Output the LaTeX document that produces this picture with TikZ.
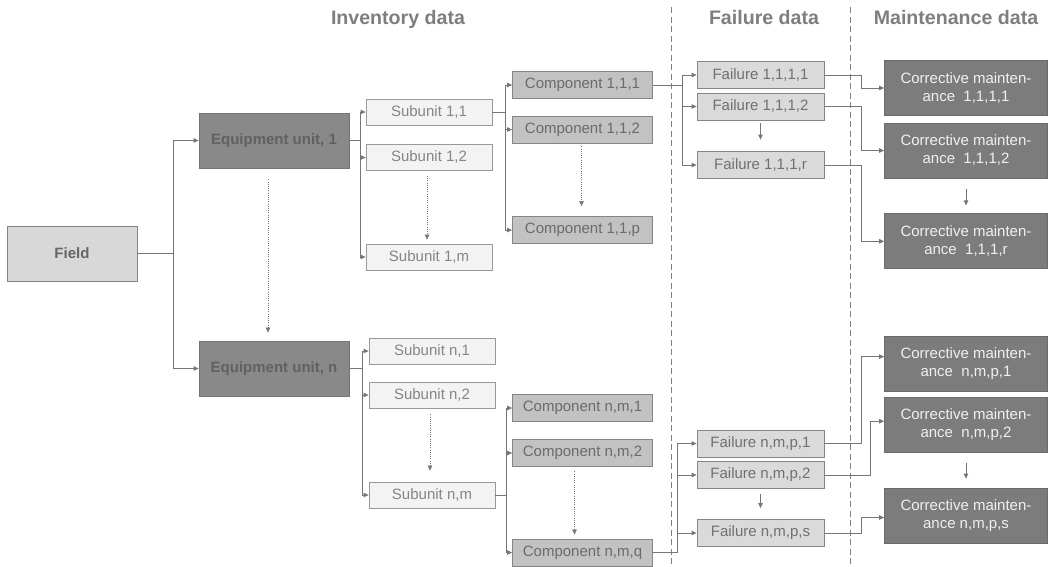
\documentclass[tikz,border=0pt]{standalone}
\usepackage{fontspec}
\setmainfont{Liberation Sans}
\usetikzlibrary{arrows.meta}

\definecolor{wire}{HTML}{767676}
\definecolor{rim}{HTML}{858585}
\definecolor{fieldfill}{HTML}{D8D8D8}
\definecolor{equipfill}{HTML}{898989}
\definecolor{subfill}{HTML}{F3F3F3}
\definecolor{compfill}{HTML}{C2C2C2}
\definecolor{failfill}{HTML}{DADADA}
\definecolor{maintfill}{HTML}{7C7C7C}
\definecolor{headgray}{HTML}{7E7E7E}

\tikzset{
  base/.style={draw=rim, line width=0.8pt, inner sep=0pt, anchor=center,
    font=\fontsize{15}{18}\selectfont},
  fieldbox/.style={base, fill=fieldfill, text=black!60,
    minimum width=130pt, minimum height=55pt, font=\fontsize{15}{18}\selectfont\bfseries},
  equipbox/.style={base, draw=black!55, fill=equipfill, text=black!62,
    minimum width=150pt, minimum height=55pt, font=\fontsize{15}{18}\selectfont\bfseries},
  subbox/.style={base, draw=black!40, fill=subfill, text=black!48,
    minimum width=126pt, minimum height=26pt},
  compbox/.style={base, fill=compfill, text=black!58,
    minimum width=140pt, minimum height=27pt},
  failbox/.style={base, fill=failfill, text=black!56,
    minimum width=127pt, minimum height=27pt},
  maintbox/.style={base, draw=black!58, fill=maintfill, text=white!94!black,
    minimum width=163pt, minimum height=55pt, align=center},
  heading/.style={anchor=base, text=headgray,
    font=\fontsize{19.6}{22}\selectfont\bfseries},
  arr/.style={draw=wire, line width=0.8pt, -{Triangle[length=5pt,width=4.5pt]}},
  dotarr/.style={draw=wire, line width=0.6pt, dash pattern=on 1pt off 1.2pt,
    -{Triangle[length=5pt,width=4.5pt]}},
  divider/.style={draw=black!50, line width=0.8pt, dash pattern=on 6pt off 3.5pt}
}

\begin{document}
\begin{tikzpicture}[x=1pt,y=-1pt]
\useasboundingbox (0,0) rectangle (1052,566);

% column headings and dividers
\node[heading] (hinv) at (398,24) {Inventory data};
\node[heading] (hfail) at (764,24) {Failure data};
\node[heading] (hmaint) at (956,24) {Maintenance data};
\draw[divider] (671,7) -- (671,566);
\draw[divider] (850,7) -- (850,566);

% field and equipment units
\node[fieldbox] (field) at (72,253.5) {Field};
\node[equipbox] (eq1) at (274,140.5) {Equipment unit, 1};
\node[equipbox] (eqn) at (274,368.5) {Equipment unit, n};

% subunits
\node[subbox] (s11) at (429,112) {Subunit 1,1};
\node[subbox] (s12) at (429,157.5) {Subunit 1,2};
\node[subbox] (s1m) at (429,257) {Subunit 1,m};
\node[subbox] (sn1) at (432,351) {Subunit n,1};
\node[subbox] (sn2) at (432,395) {Subunit n,2};
\node[subbox] (snm) at (432,495) {Subunit n,m};

% components
\node[compbox] (c111) at (582.5,85) {Component 1,1,1};
\node[compbox] (c112) at (582.5,129.5) {Component 1,1,2};
\node[compbox] (c11p) at (582.5,230) {Component 1,1,p};
\node[compbox] (cn1) at (582.5,408) {Component n,m,1};
\node[compbox] (cn2) at (582.5,453) {Component n,m,2};
\node[compbox] (cnq) at (582.5,552.5) {Component n,m,q};

% failures
\node[failbox] (f1) at (760.5,75) {Failure 1,1,1,1};
\node[failbox] (f2) at (760.5,106.5) {Failure 1,1,1,2};
\node[failbox] (fr) at (760.5,165) {Failure 1,1,1,r};
\node[failbox] (fn1) at (760.5,443.5) {Failure n,m,p,1};
\node[failbox] (fn2) at (760.5,475) {Failure n,m,p,2};
\node[failbox] (fns) at (760.5,533) {Failure n,m,p,s};

% corrective maintenance
\node[maintbox] (m1) at (966,88) {Corrective mainten-\\ance\ \ 1,1,1,1};
\node[maintbox] (m2) at (966,150.5) {Corrective mainten-\\ance\ \ 1,1,1,2};
\node[maintbox] (mr) at (966,241.3) {Corrective mainten-\\ance\ \ 1,1,1,r};
\node[maintbox] (mn1) at (966,363.6) {Corrective mainten-\\ance\ \ n,m,p,1};
\node[maintbox] (mn2) at (966,424.7) {Corrective mainten-\\ance\ \ n,m,p,2};
\node[maintbox] (mns) at (966,515.5) {Corrective mainten-\\ance n,m,p,s};

% field -> equipment units
\draw[arr] (field.east) -- ++(35.5,0) |- (eq1.west);
\draw[arr] (field.east) -- ++(35.5,0) |- (eqn.west);
\draw[dotarr] ([xshift=-6pt,yshift=-11pt]eq1.south) -- ([xshift=-6pt,yshift=8pt]eqn.north);

% equipment -> subunits
\draw[arr] (eq1.east) -- ++(10.5,0) |- (s11.west);
\draw[arr] (eq1.east) -- ++(10.5,0) |- (s12.west);
\draw[arr] (eq1.east) -- ++(10.5,0) |- (s1m.west);
\draw[arr] (eqn.east) -- ++(13,0) |- (sn1.west);
\draw[arr] (eqn.east) -- ++(13,0) |- (sn2.west);
\draw[arr] (eqn.east) -- ++(13,0) |- (snm.west);
\draw[dotarr] ([xshift=-2pt,yshift=-5pt]s12.south) -- ([xshift=-2pt,yshift=4pt]s1m.north);
\draw[dotarr] ([xshift=-2pt,yshift=-6pt]sn2.south) -- ([xshift=-2pt,yshift=11pt]snm.north);

% subunits -> components
\draw[arr] (s11.east) -- ++(13,0) |- (c111.west);
\draw[arr] (s11.east) -- ++(13,0) |- (c112.west);
\draw[arr] (s11.east) -- ++(13,0) |- (c11p.west);
\draw[arr] (snm.east) -- ++(11,0) |- (cn1.west);
\draw[arr] (snm.east) -- ++(11,0) |- (cn2.west);
\draw[arr] (snm.east) -- ++(11,0) |- (cnq.west);
\draw[dotarr] ([xshift=-1pt,yshift=-3pt]c112.south) -- ([xshift=-1pt,yshift=10pt]c11p.north);
\draw[dotarr] ([xshift=-8pt,yshift=-4.5pt]cn2.south) -- ([xshift=-8pt,yshift=4pt]cnq.north);

% components -> failures
\draw[arr] (c111.east) -- ++(29,0) |- (f1.west);
\draw[arr] (c111.east) -- ++(29,0) |- (f2.west);
\draw[arr] (c111.east) -- ++(29,0) |- (fr.west);
\draw[arr] (cnq.east) -- ++(24,0) |- (fn1.west);
\draw[arr] (cnq.east) -- ++(24,0) |- (fn2.west);
\draw[arr] (cnq.east) -- ++(24,0) |- (fns.west);
\draw[arr] ([yshift=-3pt]f2.south) -- ([yshift=11.5pt]fr.north);
\draw[arr] ([yshift=-5pt]fn2.south) -- ([yshift=11pt]fns.north);

% failures -> corrective maintenance
\draw[arr] (f1.east) -- ++(36.5,0) |- (m1.west);
\draw[arr] (f2.east) -- ++(36.5,0) |- (m2.west);
\draw[arr] (fr.east) -- ++(36.5,0) |- (mr.west);
\draw[arr] (fn1.east) -- ++(36.5,0) |- ([yshift=7pt]mn1.west);
\draw[arr] (fn2.east) -- ++(46,0) |- ([yshift=3.5pt]mn2.west);
\draw[arr] (fns.east) -- ++(36.5,0) |- ([yshift=-2pt]mns.west);
\draw[arr] ([yshift=-11pt]m2.south) -- ([yshift=8pt]mr.north);
\draw[arr] ([yshift=-10pt]mn2.south) -- ([yshift=9pt]mns.north);
\end{tikzpicture}
\end{document}
